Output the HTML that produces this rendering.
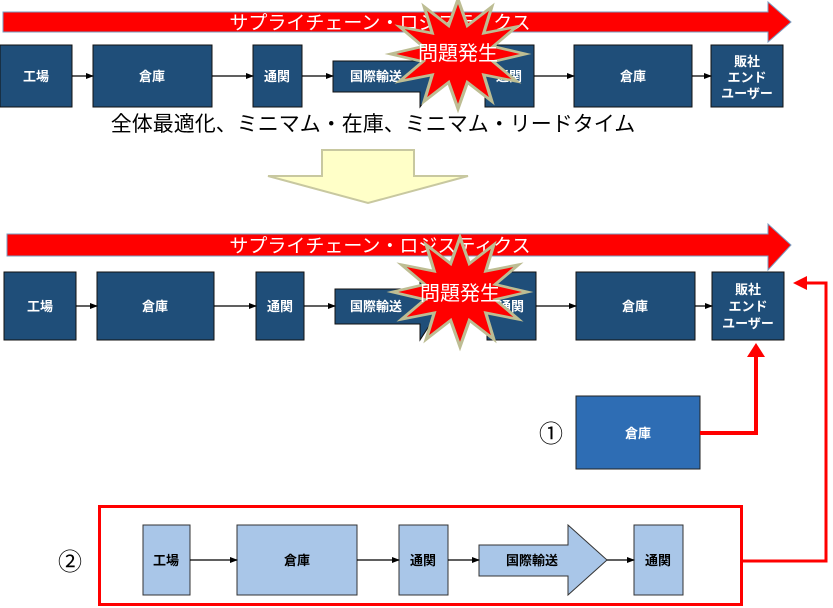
<!DOCTYPE html>
<html><head><meta charset="utf-8"><style>
body{margin:0;background:#fff;width:833px;height:608px;overflow:hidden}
svg{display:block}
text{font-family:"Liberation Sans","Noto Sans CJK JP",sans-serif}
.d{fill:#1f4e79;stroke:#111;stroke-width:1}
.w{fill:#fff;font-size:13px;font-weight:bold;text-anchor:middle}
.l{fill:#a9c6e8;stroke:#333;stroke-width:1}
.k{fill:#000;font-size:13px;font-weight:bold;text-anchor:middle}
.c{stroke:#000;stroke-width:1.2;fill:none;marker-end:url(#a)}
</style></head><body>
<svg width="833" height="608" viewBox="0 0 833 608">
<defs>
<marker id="a" markerWidth="8" markerHeight="8" refX="7" refY="4" orient="auto" markerUnits="userSpaceOnUse"><path d="M0,1 L8,4 L0,7z" fill="#000"/></marker>
<polygon id="burst" points="52,0 27,7.2 45,26 19.8,19.8 26,45 7.2,27 0,52 -7.2,27 -26,45 -19.8,19.8 -45,26 -27,7.2 -52,0 -27,-7.2 -45,-26 -19.8,-19.8 -26,-45 -7.2,-27 0,-52 7.2,-27 26,-45 19.8,-19.8 45,-26 27,-7.2" fill="#ff0000" stroke="#bdbd93" stroke-width="2.5"/>
</defs>

<!-- Row 1 -->
<polygon points="3,12 768,12 768,2 791,22 768,42 768,32 3,32" fill="#ff0000" stroke="#7a9cc0" stroke-width="1"/>
<text x="380" y="29" fill="#fff" font-size="19" text-anchor="middle">サプライチェーン・ロジスティクス</text>
<rect class="d" x="0" y="45" width="72" height="62"/><text class="w" x="36" y="81">工場</text>
<rect class="d" x="93" y="45" width="119" height="62"/><text class="w" x="152" y="81">倉庫</text>
<rect class="d" x="253" y="45" width="49" height="62"/><text class="w" x="277" y="81">通関</text>
<polygon class="d" points="333,61 420,61 420,50 442,76 420,107 420,92 333,92"/><text class="w" x="376" y="81">国際輸送</text>
<rect class="d" x="485" y="45" width="49" height="62"/><text class="w" x="509" y="81">通関</text>
<rect class="d" x="574" y="45" width="118" height="62"/><text class="w" x="633" y="81">倉庫</text>
<rect class="d" x="711" y="45" width="72" height="62"/>
<text class="w" x="747" y="66">販社</text><text class="w" x="747" y="82">エンド</text><text class="w" x="747" y="98">ユーザー</text>
<path class="c" d="M72,76 H93"/><path class="c" d="M212,76 H253"/><path class="c" d="M302,76 H333"/><path class="c" d="M534,76 H574"/><path class="c" d="M692,76 H711"/>
<use href="#burst" transform="translate(458,54) scale(1.3,1.05)"/>
<text x="458" y="60" fill="#fff" font-size="20" text-anchor="middle">問題発生</text>
<text x="373" y="131" fill="#000" font-size="21" text-anchor="middle">全体最適化、ミニマム・在庫、ミニマム・リードタイム</text>

<!-- Yellow arrow -->
<polygon points="322,150 414,150 414,176 468,176 368,203 268,176 322,176" fill="#ffffc8" stroke="#c8c8a0" stroke-width="2"/>

<!-- Row 2 -->
<polygon points="7,234 768,234 768,224 791,245 768,270 768,256 7,256" fill="#ff0000" stroke="#7a9cc0" stroke-width="1"/>
<text x="380" y="252" fill="#fff" font-size="19" text-anchor="middle">サプライチェーン・ロジスティクス</text>
<rect class="d" x="4" y="272" width="72" height="68"/><text class="w" x="40" y="311">工場</text>
<rect class="d" x="97" y="272" width="117" height="68"/><text class="w" x="155" y="311">倉庫</text>
<rect class="d" x="256" y="272" width="48" height="68"/><text class="w" x="280" y="311">通関</text>
<polygon class="d" points="335,289 420,289 420,280 442,306 420,340 420,324 335,324"/><text class="w" x="376" y="311">国際輸送</text>
<rect class="d" x="487" y="272" width="49" height="68"/><text class="w" x="511" y="311">通関</text>
<rect class="d" x="576" y="272" width="119" height="68"/><text class="w" x="635" y="311">倉庫</text>
<rect class="d" x="712" y="272" width="72" height="68"/>
<text class="w" x="748" y="294">販社</text><text class="w" x="748" y="311">エンド</text><text class="w" x="748" y="328">ユーザー</text>
<path class="c" d="M76,306 H97"/><path class="c" d="M214,306 H256"/><path class="c" d="M304,306 H335"/><path class="c" d="M536,306 H576"/><path class="c" d="M695,306 H712"/>
<use href="#burst" transform="translate(460,292) scale(1.3,1.05)"/>
<text x="460" y="300" fill="#fff" font-size="20" text-anchor="middle">問題発生</text>

<!-- Option 1 -->
<text x="551" y="442" fill="#000" font-size="24" text-anchor="middle">①</text>
<rect x="576" y="396" width="124" height="73" fill="#2e6db4" stroke="#222" stroke-width="1"/>
<text class="w" x="638" y="438">倉庫</text>
<path d="M700,433 H756 V356" stroke="#ff0000" stroke-width="4" fill="none"/>
<polygon points="747,357 765,357 756,343" fill="#ff0000"/>

<!-- Option 2 -->
<rect x="99.5" y="506.5" width="642" height="98" fill="none" stroke="#ff0000" stroke-width="3"/>
<text x="70" y="570" fill="#000" font-size="24" text-anchor="middle">②</text>
<path d="M742,561 H826 V283 H806" stroke="#ff0000" stroke-width="3" fill="none"/>
<polygon points="807,276 807,290 793,283" fill="#ff0000"/>
<rect class="l" x="143" y="525" width="47" height="70"/><text class="k" x="166" y="565">工場</text>
<rect class="l" x="237" y="525" width="120" height="70"/><text class="k" x="297" y="565">倉庫</text>
<rect class="l" x="399" y="525" width="49" height="70"/><text class="k" x="423" y="565">通関</text>
<polygon class="l" points="479,545 568,545 568,525 607,560 568,595 568,576 479,576"/><text class="k" x="532" y="565">国際輸送</text>
<rect class="l" x="634" y="525" width="49" height="70"/><text class="k" x="658" y="565">通関</text>
<path class="c" d="M190,560 H237"/><path class="c" d="M357,560 H399"/><path class="c" d="M448,560 H479"/><path class="c" d="M607,560 H634"/>
</svg>
</body></html>
